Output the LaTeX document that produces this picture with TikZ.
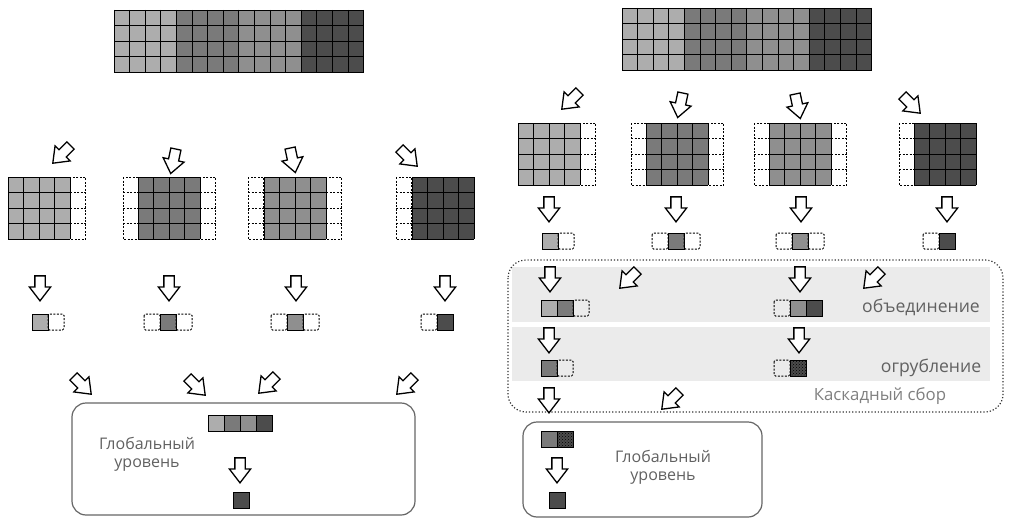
\documentclass[tikz,border=0pt]{standalone}
\usepackage{fontspec}
\setmainfont{Open Sans}
\usetikzlibrary{shapes.arrows, patterns}

\definecolor{cellA}{gray}{0.68}
\definecolor{cellB}{gray}{0.48}
\definecolor{cellC}{gray}{0.56}
\definecolor{cellD}{gray}{0.30}
\definecolor{txt}{gray}{0.38}
\definecolor{band}{gray}{0.92}

\begin{document}
\begin{tikzpicture}[x=1pt, y=-1pt,
    gridline/.style={black, line width=0.8pt},
    dashline/.style={black, dash pattern=on 2pt off 1.5pt, line width=1pt},
    hollow/.style={single arrow, draw=black, fill=white, line width=1.3pt,
        inner sep=4.5pt, minimum height=25pt,
        single arrow head extend=5.5pt, single arrow tip angle=75},
    tagtext/.style={text=txt, font=\fontsize{17.6}{20}\selectfont},
    roundbox/.style={draw=black!60, line width=1.2pt, rounded corners=14pt}]

\useasboundingbox (0,0) rectangle (1010,519);

% cell size
\def\cw{15.6}
\def\ch{15.5}
\def\dw{15.5}

% Grid macro
% Arguments: x, y, columns, colour
\def\cellgrid#1#2#3#4{
    \begin{scope}[shift={(#1,#2)}]
    \fill[#4] (0,0) rectangle (#3*\cw,4*\ch);
    \foreach \i in {0,...,#3} \draw[gridline] (\i*\cw,0) -- (\i*\cw,4*\ch);
    \foreach \j in {0,...,4} \draw[gridline] (0,\j*\ch) -- (#3*\cw,\j*\ch);
    \end{scope}
}
% Dashed padding column: x, y
\def\dashcol#1#2{
    \begin{scope}[shift={(#1,#2)}]
    \draw[dashline] (0,0) rectangle (\dw,4*\ch);
    \foreach \j in {1,2,3} \draw[dashline] (0,\j*\ch) -- (\dw,\j*\ch);
    \end{scope}
}
% Single cells: x, y, colour / x, y
\def\cell#1#2#3{\fill[#3] (#1,#2) rectangle ++(16,16); \draw[gridline] (#1,#2) rectangle ++(16,16);}
\def\dcell#1#2{\draw[dashline, rounded corners=1.5pt] (#1,#2) rectangle ++(16,16);}
\def\hcell#1#2{\fill[cellD] (#1,#2) rectangle ++(16,16);
    \fill[pattern=crosshatch dots, pattern color=black] (#1,#2) rectangle ++(16,16);
    \draw[gridline] (#1,#2) rectangle ++(16,16);}

% ---------------- left: global aggregation ----------------
% Full tile
\cellgrid{114}{10}{4}{cellA}
\cellgrid{176.4}{10}{4}{cellB}
\cellgrid{238.8}{10}{4}{cellC}
\cellgrid{301.2}{10}{4}{cellD}

% Split tiles with padding
\cellgrid{8}{177}{4}{cellA}     \dashcol{70.4}{177}
\dashcol{123}{177} \cellgrid{138}{177}{4}{cellB} \dashcol{200.4}{177}
\dashcol{248}{177} \cellgrid{264}{177}{4}{cellC} \dashcol{326.4}{177}
\dashcol{396}{177} \cellgrid{412}{177}{4}{cellD}

\node[hollow, rotate=225] (la1) at (64,152) {};
\node[hollow, rotate=258] (la2) at (174,158) {};
\node[hollow, rotate=282] (la3) at (292,157) {};
\node[hollow, rotate=315] (la4) at (406,155) {};

\node[hollow, rotate=270] (lb1) at (40,285) {};
\node[hollow, rotate=270] (lb2) at (169,285) {};
\node[hollow, rotate=270] (lb3) at (296,285) {};
\node[hollow, rotate=270] (lb4) at (445,285) {};

% Reduced tiles
\cell{32}{314}{cellA} \dcell{48}{314}
\dcell{144}{314} \cell{160}{314}{cellB} \dcell{176}{314}
\dcell{271}{314} \cell{287}{314}{cellC} \dcell{303}{314}
\dcell{421}{314} \cell{437}{314}{cellD}

\node[hollow, rotate=315] (lc1) at (80,383) {};
\node[hollow, rotate=315] (lc2) at (194,384) {};
\node[hollow, rotate=225] (lc3) at (270,382) {};
\node[hollow, rotate=225] (lc4) at (408,383) {};

% Global level
\draw[roundbox] (72,403) rectangle (415,515);
\cell{208}{415}{cellA} \cell{224}{415}{cellB} \cell{240}{415}{cellC} \cell{256}{415}{cellD}
\node[hollow, rotate=270] (ld) at (240,467) {};
\cell{233}{492}{cellD}
\node[tagtext, align=center, font=\fontsize{16}{18}\selectfont] (lglob) at (147,454) {Глобальный\\уровень};

% ---------------- right: cascaded aggregation ----------------
% Cascade area
\fill[band] (512,267) rectangle (990,322);
\fill[band] (512,327) rectangle (990,381);
\draw[black!80, dotted, line width=1.2pt, rounded corners=18pt] (508,260) rectangle (1003,412);

\cellgrid{622}{8}{4}{cellA}
\cellgrid{684.4}{8}{4}{cellB}
\cellgrid{746.8}{8}{4}{cellC}
\cellgrid{809.2}{8}{4}{cellD}

\cellgrid{518}{123}{4}{cellA}     \dashcol{580.4}{123}
\dashcol{631}{123} \cellgrid{646}{123}{4}{cellB} \dashcol{708.4}{123}
\dashcol{754}{123} \cellgrid{769}{123}{4}{cellC} \dashcol{831.4}{123}
\dashcol{899}{123} \cellgrid{914}{123}{4}{cellD}

\node[hollow, rotate=225] (ra1) at (573,98) {};
\node[hollow, rotate=258] (ra2) at (681,102) {};
\node[hollow, rotate=282] (ra3) at (797,103) {};
\node[hollow, rotate=315] (ra4) at (909,102) {};

\node[hollow, rotate=270] (rb1) at (549,206) {};
\node[hollow, rotate=270] (rb2) at (676,206) {};
\node[hollow, rotate=270] (rb3) at (801,206) {};
\node[hollow, rotate=270] (rb4) at (947,206) {};

\cell{542}{233}{cellA} \dcell{558}{233}
\dcell{652}{233} \cell{668}{233}{cellB} \dcell{684}{233}
\dcell{776}{233} \cell{792}{233}{cellC} \dcell{808}{233}
\dcell{923}{233} \cell{939}{233}{cellD}

% Merge step
\node[hollow, rotate=270] (rc1) at (550,276) {};
\node[hollow, rotate=225] (rc2) at (631,277) {};
\node[hollow, rotate=270] (rc3) at (800,276) {};
\node[hollow, rotate=225] (rc4) at (875,277) {};
\cell{541}{300}{cellA} \cell{557}{300}{cellB} \dcell{573}{300}
\dcell{774}{300} \cell{790}{300}{cellC} \cell{806}{300}{cellD}
\node[tagtext] (merge) at (921,307) {объединение};

% Coarsening step
\node[hollow, rotate=270] (rd1) at (549,337) {};
\node[hollow, rotate=270] (rd2) at (799,337) {};
\cell{541}{360}{cellB} \dcell{557}{360}
\dcell{774}{360} \hcell{790}{360}
\node[tagtext] (coarse) at (931,368) {огрубление};
\node[tagtext, text=black!50, font=\fontsize{16.8}{18}\selectfont] (cascade) at (880,396) {Каскадный сбор};

\node[hollow, rotate=270] (re1) at (549,397) {};
\node[hollow, rotate=225] (re2) at (673,398) {};

% Global level
\draw[roundbox] (523,422) rectangle (762,517);
\cell{541}{431}{cellB} \hcell{557}{431}
\node[hollow, rotate=270] (rf) at (557,467) {};
\cell{549}{492}{cellD}
\node[tagtext, align=center, font=\fontsize{16}{18}\selectfont] (rglob) at (663,467) {Глобальный\\уровень};

\end{tikzpicture}
\end{document}
